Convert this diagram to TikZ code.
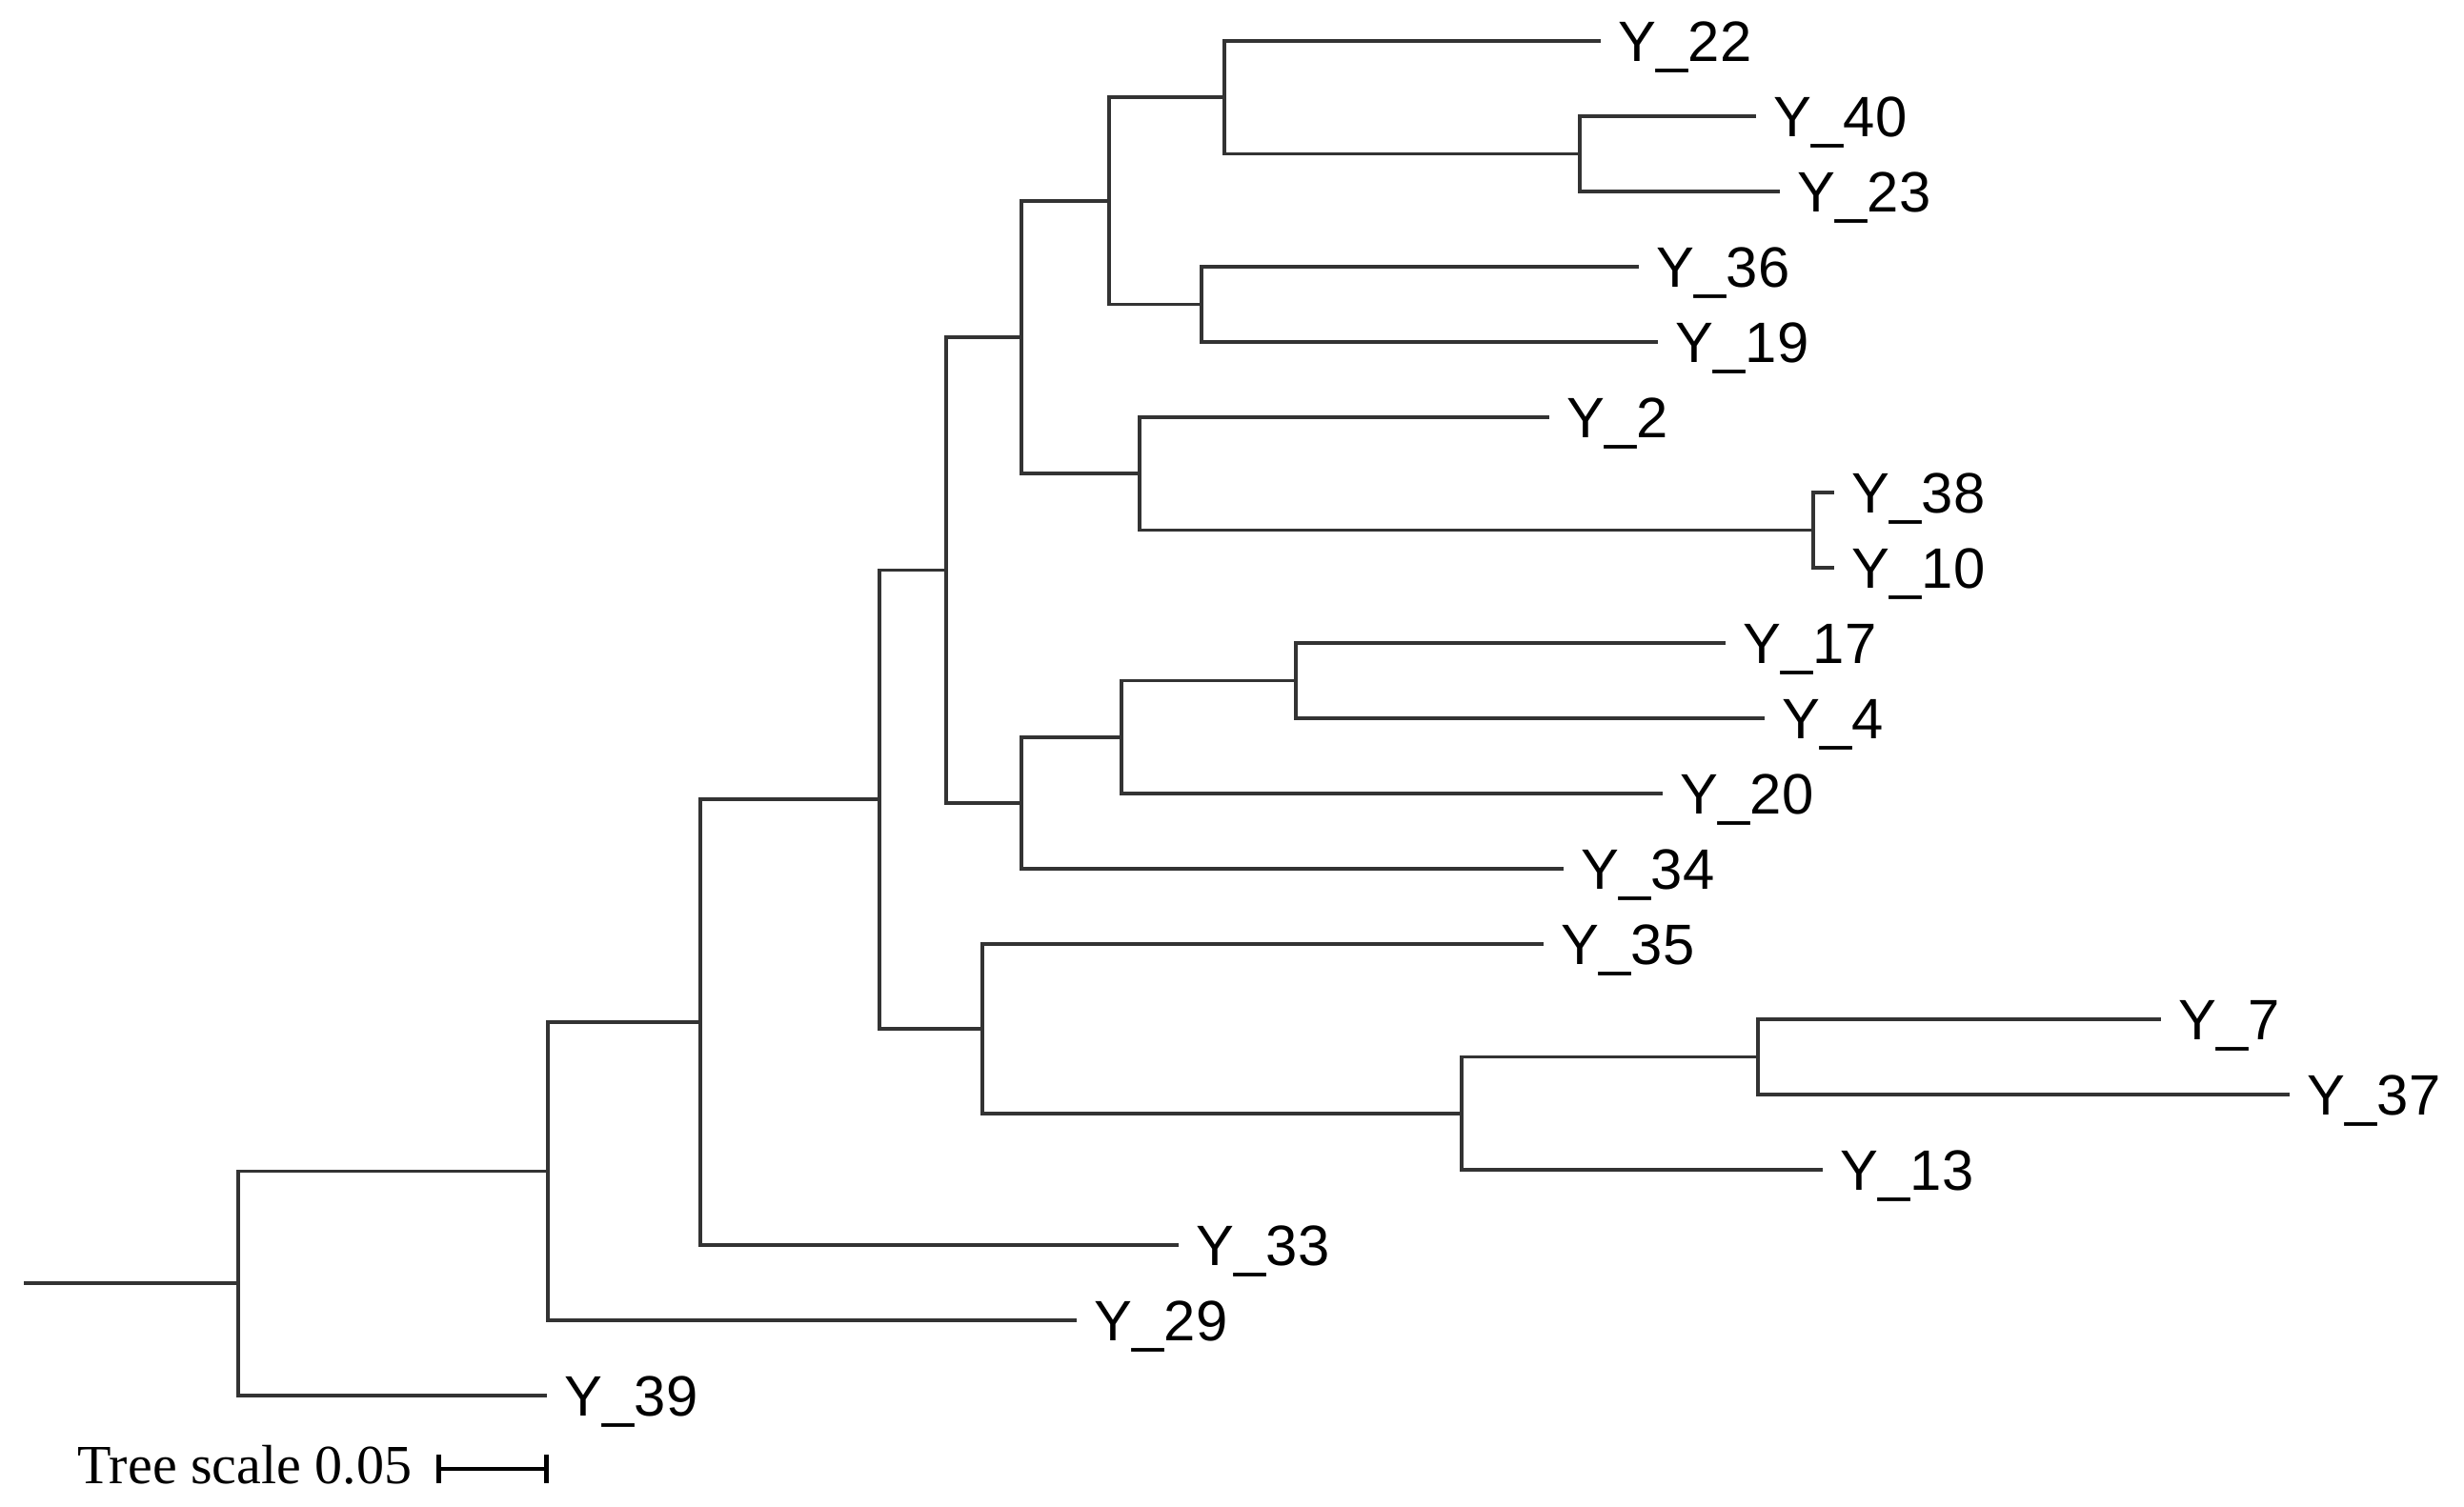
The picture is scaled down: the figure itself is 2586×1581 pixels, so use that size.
\documentclass[tikz,border=0pt]{standalone}
\usepackage{fontspec}
\setmainfont{Liberation Serif}
\setsansfont{Liberation Sans}
\usetikzlibrary{arrows.meta}

\begin{document}
\begin{tikzpicture}[x=0.01cm,y=-0.01cm,
	branch/.style={draw=black!80,line width=1.1pt},
	taxon/.style={anchor=base west,inner sep=0pt,xshift=1.8mm,yshift=-6pt,font=\sffamily\fontsize{17}{20}\selectfont}]
	\useasboundingbox (0,0) rectangle (2586,1581);
	% define coordinates
	% leaves
	\coordinate (y22) at (1680,43);
	\coordinate (y40) at (1843,122);
	\coordinate (y23) at (1868,201);
	\coordinate (y36) at (1720,280);
	\coordinate (y19) at (1740,359);
	\coordinate (y2) at (1626,438);
	\coordinate (y38) at (1925,517);
	\coordinate (y10) at (1925,596);
	\coordinate (y17) at (1811,675);
	\coordinate (y4) at (1852,754);
	\coordinate (y20) at (1745,833);
	\coordinate (y34) at (1641,912);
	\coordinate (y35) at (1620,991);
	\coordinate (y7) at (2268,1070);
	\coordinate (y37) at (2403,1149);
	\coordinate (y13) at (1913,1228);
	\coordinate (y33) at (1237,1307);
	\coordinate (y29) at (1130,1386);
	\coordinate (y39) at (574,1465);
	% inner nodes
	\coordinate (root) at (25,1347);
	\coordinate (n1) at (250,1347);
	\coordinate (n2) at (575,1229.5);
	\coordinate (n3) at (735,1073);
	\coordinate (n4) at (923,839);
	\coordinate (n5) at (993,598.5);
	\coordinate (n6) at (1072,354);
	\coordinate (n7) at (1164,211);
	\coordinate (n8) at (1285,102);
	\coordinate (n9) at (1658,161.5);
	\coordinate (n10) at (1261,319.5);
	\coordinate (n11) at (1196,497);
	\coordinate (n12) at (1903,556.5);
	\coordinate (n13) at (1072,843);
	\coordinate (n14) at (1177,773.75);
	\coordinate (n15) at (1360,714.5);
	\coordinate (n16) at (1031,1080);
	\coordinate (n17) at (1534,1168.75);
	\coordinate (n18) at (1845,1109.5);
	% branches
	\draw[branch] (root) -- (n1);
	\draw[branch] (n1) |- (n2) (n1) |- (y39);
	\draw[branch] (n2) |- (n3) (n2) |- (y29);
	\draw[branch] (n3) |- (n4) (n3) |- (y33);
	\draw[branch] (n4) |- (n5) (n4) |- (n16);
	\draw[branch] (n5) |- (n6) (n5) |- (n13);
	\draw[branch] (n6) |- (n7) (n6) |- (n11);
	\draw[branch] (n7) |- (n8) (n7) |- (n10);
	\draw[branch] (n8) |- (y22) (n8) |- (n9);
	\draw[branch] (n9) |- (y40) (n9) |- (y23);
	\draw[branch] (n10) |- (y36) (n10) |- (y19);
	\draw[branch] (n11) |- (y2) (n11) |- (n12);
	\draw[branch] (n12) |- (y38) (n12) |- (y10);
	\draw[branch] (n13) |- (n14) (n13) |- (y34);
	\draw[branch] (n14) |- (n15) (n14) |- (y20);
	\draw[branch] (n15) |- (y17) (n15) |- (y4);
	\draw[branch] (n16) |- (y35) (n16) |- (n17);
	\draw[branch] (n17) |- (n18) (n17) |- (y13);
	\draw[branch] (n18) |- (y7) (n18) |- (y37);
	% labels
	\foreach \n in {22,40,23,36,19,2,38,10,17,4,20,34,35,7,37,13,33,29,39}
		\node[taxon] (t\n) at (y\n) {Y\_\n};
	% scale bar
	\coordinate (s1) at (458,1542);
	\coordinate (s2) at (576,1542);
	\node[anchor=base east,inner sep=0pt,font=\rmfamily\fontsize{16.5}{20}\selectfont] (scale) at (433,1557) {Tree scale 0.05};
	\draw[line width=1.2pt,{Bar[width=3mm,line width=1.3pt]}-{Bar[width=3mm,line width=1.3pt]}] (s1) -- (s2);
\end{tikzpicture}
\end{document}
